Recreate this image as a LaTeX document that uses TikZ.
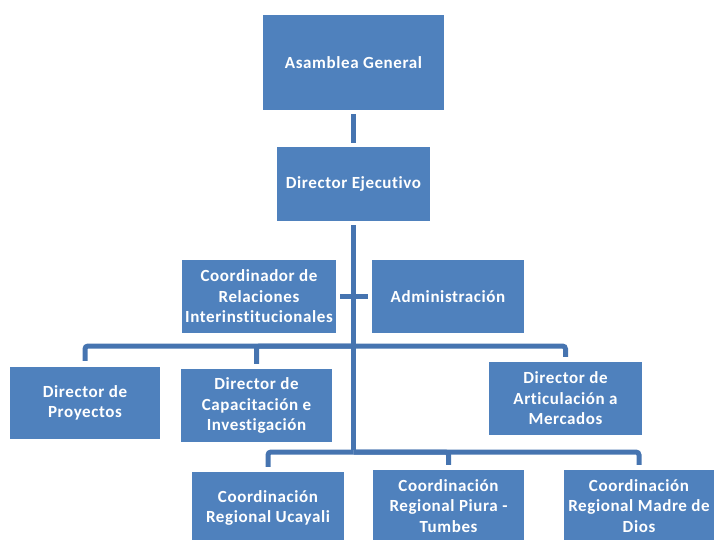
\documentclass[tikz,border=0pt]{standalone}
\usepackage{fontspec}
\setmainfont{Carlito}[LetterSpace=3.5,Ligatures=NoCommon]
\definecolor{boxfill}{HTML}{4F81BD}
\definecolor{connc}{HTML}{4674B0}
\begin{document}
\begin{tikzpicture}[x=1pt,y=-1pt,
  orgbox/.style={draw=none,fill=boxfill,text=white,font=\fontsize{17}{20.5}\selectfont\bfseries,align=center,inner sep=0pt},
  conn/.style={draw=connc,line width=5pt,rounded corners=3pt}]
\useasboundingbox (0,0) rectangle (714,539);
\clip (0,0) rectangle (714,539);
\node[orgbox,minimum width=181,minimum height=95] (ag) at (353.5,62.5) {Asamblea General};
\node[orgbox,minimum width=153,minimum height=74] (de) at (353.5,184) {Director Ejecutivo};
\node[orgbox,minimum width=154,minimum height=73] (cr) at (259,296.5) {Coordinador de\\Relaciones\\Interinstitucionales};
\node[orgbox,minimum width=152,minimum height=73] (ad) at (448,296.5) {Administración};
\node[orgbox,minimum width=150,minimum height=72] (dp) at (85,403) {Director de\\Proyectos};
\node[orgbox,minimum width=151,minimum height=73] (dc) at (256.5,405.5) {Director de\\Capacitación e\\Investigación};
\node[orgbox,minimum width=153,minimum height=73] (da) at (565.5,398.5) {Director de\\Articulación a\\Mercados};
\node[orgbox,minimum width=152,minimum height=72] (cu) at (268,508) {Coordinación\\Regional Ucayali};
\node[orgbox,minimum width=151,minimum height=72] (cp) at (448.5,506) {Coordinación\\Regional Piura -\\Tumbes};
\node[orgbox,minimum width=150,minimum height=72] (cm) at (639,506) {Coordinación\\Regional Madre de\\Dios};
\coordinate (b1) at (353.5,346);
\coordinate (b2) at (353.5,452);
\draw[conn,shorten <=4pt,shorten >=4pt] (ag.south) -- (de.north);
\draw[conn,shorten <=4pt] (de.south) -- ([yshift=2.5pt]b2);
\draw[conn,shorten <=4pt,shorten >=4pt] (cr.east) -- (ad.west);
\draw[conn,shorten >=6pt] (b1) -| (dp.north);
\draw[conn,shorten >=5pt] (b1) -| (dc.north);
\draw[conn,shorten >=5pt] (b1) -| (da.north);
\draw[conn,shorten >=5pt] (b2) -| (cu.north);
\draw[conn,shorten >=5pt] (b2) -| (cp.north);
\draw[conn,shorten >=5pt] (b2) -| (cm.north);
\end{tikzpicture}
\end{document}
